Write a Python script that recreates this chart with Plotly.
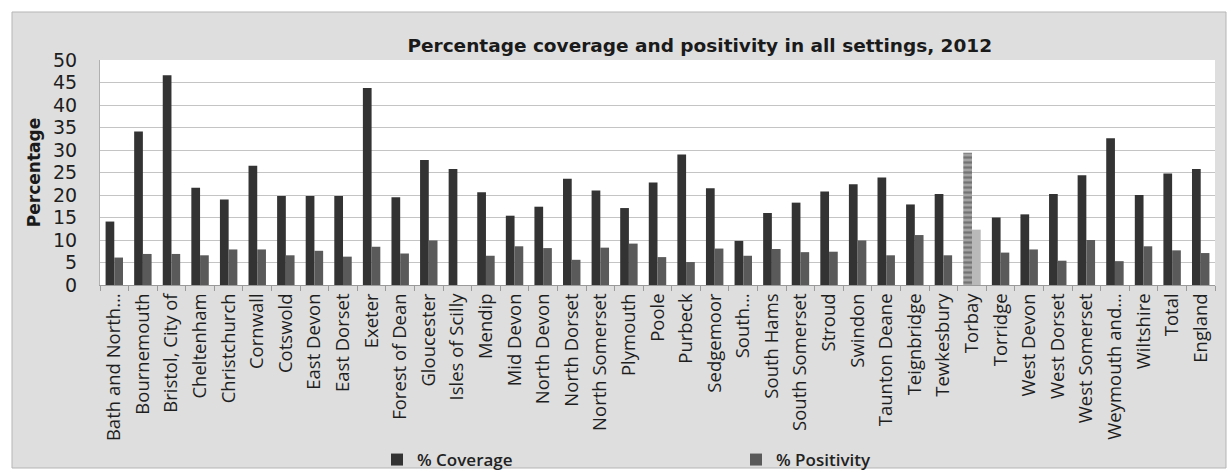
import plotly.graph_objects as go

# Local authority areas plus the two comparison rows
areas = [
    "Bath and North…", "Bournemouth", "Bristol, City of", "Cheltenham", "Christchurch",
    "Cornwall", "Cotswold", "East Devon", "East Dorset", "Exeter",
    "Forest of Dean", "Gloucester", "Isles of Scilly", "Mendip", "Mid Devon",
    "North Devon", "North Dorset", "North Somerset", "Plymouth", "Poole",
    "Purbeck", "Sedgemoor", "South…", "South Hams", "South Somerset",
    "Stroud", "Swindon", "Taunton Deane", "Teignbridge", "Tewkesbury",
    "Torbay", "Torridge", "West Devon", "West Dorset", "West Somerset",
    "Weymouth and…", "Wiltshire", "Total", "England",
]

coverage = [
    14.1, 34.1, 46.6, 21.6, 19.0,
    26.5, 19.8, 19.8, 19.8, 43.8,
    19.5, 27.8, 25.8, 20.6, 15.4,
    17.4, 23.6, 21.0, 17.1, 22.8,
    29.0, 21.5, 9.8, 16.0, 18.3,
    20.8, 22.4, 23.9, 17.9, 20.2,
    29.4, 15.0, 15.7, 20.2, 24.4,
    32.6, 20.0, 24.8, 25.8,
]

positivity = [
    6.1, 6.9, 6.9, 6.6, 7.9,
    7.9, 6.6, 7.6, 6.3, 8.5,
    7.0, 9.9, 0.0, 6.5, 8.6,
    8.2, 5.6, 8.3, 9.2, 6.2,
    5.1, 8.1, 6.5, 8.0, 7.3,
    7.4, 9.9, 6.6, 11.1, 6.6,
    12.3, 7.2, 7.9, 5.4, 10.0,
    5.3, 8.6, 7.7, 7.1,
]

y_ticks = [0, 5, 10, 15, 20, 25, 30, 35, 40, 45, 50]
highlight = "Torbay"

W, H = 1232, 472
ML, MR, MT, MB = 100, 17, 60, 187
PW, PH = W - ML - MR, H - MT - MB


def px_x(x):
    return (x - ML) / PW


def px_y(y):
    return (H - MB - y) / PH


cov_colors = ["#a3a3a3" if a == highlight else "#333333" for a in areas]
pos_colors = ["#b9b9b9" if a == highlight else "#5a5a5a" for a in areas]
cov_pattern = ["-" if a == highlight else "" for a in areas]

fig = go.Figure()
fig.add_trace(go.Bar(
    name="% Coverage", x=areas, y=coverage,
    marker=dict(color=cov_colors, line=dict(width=0),
                pattern=dict(shape=cov_pattern, fgcolor="#6e6e6e", size=5, solidity=0.45)),
))
fig.add_trace(go.Bar(
    name="% Positivity", x=areas, y=positivity,
    marker=dict(color=pos_colors, line=dict(width=0)),
))

# grey chart frame and white plotting area
fig.add_shape(type="rect", xref="paper", yref="paper", layer="below",
              x0=px_x(12), x1=px_x(1226), y0=px_y(468), y1=px_y(12),
              fillcolor="#dedede", line=dict(color="#b5b5b5", width=1))
fig.add_shape(type="rect", xref="paper", yref="paper", layer="below",
              x0=0, x1=1, y0=0, y1=1, fillcolor="white", line=dict(width=0))

fig.update_layout(
    width=W, height=H,
    margin=dict(l=ML, r=MR, t=MT, b=MB, autoexpand=False),
    paper_bgcolor="white", plot_bgcolor="white",
    barmode="group", bargap=0.39, bargroupgap=0.0,
    title=dict(text="<b>Percentage coverage and positivity in all settings, 2012</b>",
               x=0.568, xanchor="center", y=1 - 46 / H, yanchor="middle",
               font=dict(family="DejaVu Sans", size=18.5, color="#1a1a1a")),
    legend=dict(orientation="h", x=px_x(377), xanchor="left",
                y=px_y(460), yanchor="middle",
                itemwidth=30, entrywidth=314, entrywidthmode="pixels",
                bgcolor="rgba(0,0,0,0)", borderwidth=0,
                font=dict(family="Open Sans", size=17, color="#222222", weight=600)),
    showlegend=True,
)

fig.update_xaxes(
    type="category", tickangle=-90, automargin=False,
    tickfont=dict(family="Open Sans", size=18.5, color="#1e1e1e"),
    showline=True, linecolor="#9a9a9a", linewidth=1,
    ticks="outside", tickson="boundaries", ticklen=5, tickcolor="#9a9a9a",
    showgrid=False,
)
fig.update_yaxes(
    range=[0, 50], tickvals=y_ticks, ticktext=[str(v) for v in y_ticks],
    automargin=False,
    tickfont=dict(family="DejaVu Sans", size=19, color="#1e1e1e"),
    ticklabelstandoff=18,
    showgrid=True, gridcolor="#c4c4c4", gridwidth=1,
    showline=True, linecolor="#b0b0b0", linewidth=1,
    zeroline=False,
    title=dict(text="<b>Percentage</b>", standoff=8,
               font=dict(family="DejaVu Sans", size=17, color="#1a1a1a")),
)

fig.write_html("out.html")
